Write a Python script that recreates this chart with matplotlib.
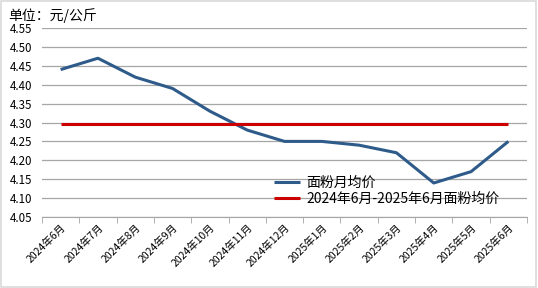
import matplotlib
matplotlib.use("Agg")
import matplotlib.pyplot as plt
from matplotlib.patches import Rectangle
import numpy as np

plt.rcParams['font.family'] = ['Noto Sans CJK SC', 'DejaVu Sans']

categories = ["2024年6月", "2024年7月", "2024年8月", "2024年9月", "2024年10月", "2024年11月",
              "2024年12月", "2025年1月", "2025年2月", "2025年3月", "2025年4月", "2025年5月", "2025年6月"]
monthly = [4.44, 4.47, 4.42, 4.39, 4.33, 4.28, 4.25, 4.25, 4.24, 4.22, 4.14, 4.17, 4.25]
average = [round(sum(monthly) / len(monthly), 3)] * len(monthly)
yticks = [4.05, 4.10, 4.15, 4.20, 4.25, 4.30, 4.35, 4.40, 4.45, 4.50, 4.55]

fig = plt.figure(figsize=(5.38, 2.88), dpi=100)
fig.patches.append(Rectangle((0.002, 0.003), 0.995, 0.993, transform=fig.transFigure,
                             fill=False, edgecolor='#D9D9D9', linewidth=1.2))
ax = fig.add_axes([0.078, 0.2465, 0.9016, 0.6563])

x = np.arange(len(categories))
ax.plot(x, monthly, color='#2E5B8A', linewidth=2.2, label='面粉月均价', solid_capstyle='butt')
ax.plot(x, average, color='#CC0000', linewidth=2.2, label='2024年6月-2025年6月面粉均价', solid_capstyle='butt')

ax.set_xlim(-0.5, len(categories) - 0.5)
ax.set_ylim(4.05, 4.55)
ax.set_yticks(yticks)
ax.set_yticklabels([f"{v:.2f}" for v in yticks], fontsize=8.3)
ax.yaxis.grid(True, color='#A6A6A6', linewidth=0.9)
ax.set_axisbelow(True)
ax.tick_params(axis='y', length=0, pad=7)

ax.set_xticks(x)
ax.set_xticklabels(categories, rotation=45, ha='right', rotation_mode='anchor', fontsize=7.5)
ax.tick_params(axis='x', which='major', length=0, pad=4)
ax.set_xticks(np.arange(-0.5, len(categories)), minor=True)
ax.tick_params(axis='x', which='minor', length=4, color='#A6A6A6', direction='out')

for s in ['top', 'right', 'left']:
    ax.spines[s].set_visible(False)
ax.spines['bottom'].set_color('#A6A6A6')

fig.text(0.015, 0.945, '单位：元/公斤', fontsize=10, ha='left', va='center')

ax.legend(loc='upper left', bbox_to_anchor=(0.478, 0.22), frameon=False, fontsize=10,
          handlelength=1.9, handletextpad=0.45, labelspacing=0.2, borderaxespad=0,
          borderpad=0)

fig.savefig('out.png', dpi=100)
